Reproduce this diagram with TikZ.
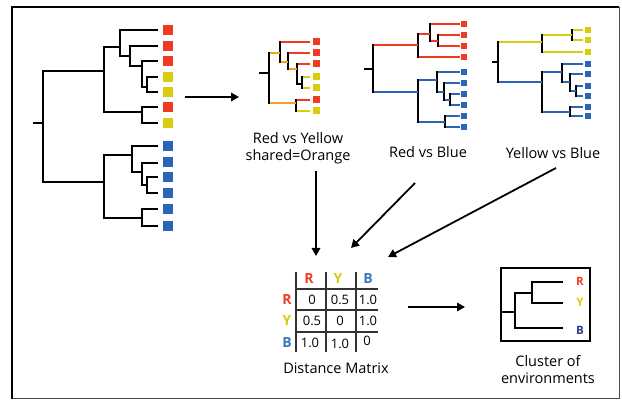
\documentclass[tikz,border=0pt]{standalone}
\usepackage{fontspec}
\setmainfont{Open Sans}
\usetikzlibrary{arrows.meta}

\definecolor{envred}{HTML}{EE3B22}
\definecolor{envyel}{HTML}{D8CC0C}
\definecolor{envblu}{HTML}{2B66B6}
\definecolor{envorg}{HTML}{F4A021}
\definecolor{envnavy}{HTML}{2A3C96}
\definecolor{mblue}{HTML}{3A78BE}

% one clade: parent x, then (y, child x, colour) for both children
\newcommand\tclade[7]{%
  \draw[hline,#4] (#1,#2) -- (#3,#2);
  \draw[hline,#7] (#1,#5) -- (#6,#5);
  \draw[vline] (#1,#2) -- (#1,#5);}
% leaf marker: x centre, y centre, size, colour
\newcommand\leafsq[4]{\fill[#4] (#1-#3/2,#2-#3/2) rectangle (#1+#3/2,#2+#3/2);}

\begin{document}
\begin{tikzpicture}[x=1pt,y=-1pt,
  bigtree/.style={line width=2.8pt,black,line join=miter},
  hline/.style={line width=2pt},
  vline/.style={line width=2pt,black,line cap=rect},
  arr/.style={line width=1.8pt,-{Triangle[length=8pt,width=8.5pt]}},
  lbl/.style={font=\fontsize{14.5}{17}\selectfont,align=center,inner sep=0pt},
  cell/.style={font=\fontsize{13}{13}\selectfont,inner sep=0pt},
  head/.style={font=\fontsize{14}{14}\selectfont\bfseries,inner sep=0pt},
  mline/.style={line width=1.1pt,black!80},
  ryb/.style={font=\fontsize{11.5}{12}\selectfont\bfseries,inner sep=0pt}]
\useasboundingbox (0,0) rectangle (622,401);

% outer frame
\draw[line width=1pt,black!70] (619,7) -- (619,398) -- (12,398);
\draw[line width=2.6pt,black] (12,399) -- (12,7) -- (619,7);

% ---------- full tree ----------
\draw[bigtree] (158,77) -- (147,77) -- (147,92) -- (158,92);
\draw[bigtree] (158,61) -- (142,61) -- (142,87) -- (147,87);
\draw[bigtree] (158,46) -- (130,46) -- (130,66) -- (142,66);
\draw[bigtree] (158,30) -- (120,30) -- (120,56) -- (130,56);
\draw[bigtree] (158,107) -- (142,107) -- (142,123) -- (158,123);
\draw[bigtree] (120,47) -- (104,47) -- (104,112) -- (142,112);
\draw[bigtree] (158,177) -- (147,177) -- (147,193) -- (158,193);
\draw[bigtree] (158,163) -- (142,163) -- (142,185) -- (147,185);
\draw[bigtree] (158,146) -- (132,146) -- (132,172) -- (142,172);
\draw[bigtree] (158,209) -- (142,209) -- (142,226) -- (158,226);
\draw[bigtree] (132,155) -- (104,155) -- (104,218) -- (142,218);
\draw[bigtree] (104,71) -- (43,71) -- (43,182) -- (104,182);
\draw[bigtree] (33,123) -- (43,123);
\foreach \yy/\cc in {30/envred,46/envred,61/envred,77/envyel,92/envyel,107/envred,123/envyel,
                     146/envblu,162/envblu,177/envblu,193/envblu,209/envblu,226/envblu}
  {\leafsq{168}{\yy}{9.5}{\cc}}

% ---------- red vs yellow ----------
\tclade{302}{77}{310}{envyel}{88}{310}{envyel}
\tclade{297}{64}{310}{envred}{84}{302}{black}
\tclade{288}{53}{310}{envred}{69}{297}{envorg}
\tclade{280}{42}{310}{envred}{62}{288}{envorg}
\tclade{296}{100}{310}{envred}{111}{310}{envyel}
\tclade{269}{53}{280}{envorg}{103}{296}{envorg}
\draw[hline,black] (259,73) -- (269,73);
\foreach \yy/\cc in {42/envred,53/envred,64/envred,77/envyel,88/envyel,100/envred,111/envyel}
  {\leafsq{316.5}{\yy}{7}{\cc}}
\node[lbl] (ry) at (298,148) {Red vs Yellow\\shared=Orange};

% ---------- red vs blue ----------
\tclade{438}{35}{460}{envred}{46}{460}{envred}
\tclade{430}{24}{460}{envred}{41}{438}{envred}
\tclade{418}{34}{430}{envred}{57}{460}{envred}
\tclade{450}{94}{460}{envblu}{105}{460}{envblu}
\tclade{444}{83}{460}{envblu}{100}{450}{envblu}
\tclade{437}{72}{460}{envblu}{92}{444}{envblu}
\tclade{445}{116}{460}{envblu}{127}{460}{envblu}
\tclade{418}{80}{437}{envblu}{122}{445}{envblu}
\tclade{373}{45}{418}{envred}{92}{418}{envblu}
\draw[hline,black] (364,69) -- (373,69);
\foreach \yy/\cc in {24/envred,35/envred,46/envred,57/envred,
                     72/envblu,83/envblu,94/envblu,105/envblu,116/envblu,127/envblu}
  {\leafsq{464}{\yy}{6.5}{\cc}}
\node[lbl] (rb) at (428,152) {Red vs Blue};

% ---------- yellow vs blue ----------
\tclade{572}{30}{583}{envyel}{40}{583}{envyel}
\tclade{542}{35}{572}{envyel}{52}{583}{envyel}
\tclade{576}{86}{583}{envblu}{96}{583}{envblu}
\tclade{570}{74}{583}{envblu}{91}{576}{envblu}
\tclade{562}{64}{583}{envblu}{82}{570}{envblu}
\tclade{570}{107}{583}{envblu}{116}{583}{envblu}
\tclade{542}{72}{562}{envblu}{112}{570}{envblu}
\tclade{498}{42}{542}{envyel}{82}{542}{envblu}
\draw[hline,black] (492,62) -- (498,62);
\foreach \yy/\cc in {30/envyel,40/envyel,52/envyel,
                     64/envblu,74/envblu,86/envblu,96/envblu,107/envblu,116/envblu}
  {\leafsq{588}{\yy}{6.5}{\cc}}
\node[lbl] (yb) at (553,153) {Yellow vs Blue};

% ---------- distance matrix ----------
\draw[mline] (296,272) -- (296,352);
\draw[mline] (326,272) -- (326,352);
\draw[mline] (356,272) -- (356,352);
\draw[mline] (295,289) -- (378,289);
\draw[mline] (295,310) -- (378,310);
\draw[mline] (295,332) -- (378,332);
\node[head,envred] (cR) at (309,279) {R};
\node[head,envyel] (cY) at (338,279) {Y};
\node[head,mblue]  (cB) at (368,279) {B};
\node[head,envred] (rR) at (287,300) {R};
\node[head,envyel] (rY) at (287,321) {Y};
\node[head,mblue]  (rB) at (287,343) {B};
\node[cell] (m11) at (312,300) {0};
\node[cell] (m12) at (340,300) {0.5};
\node[cell] (m13) at (368,300) {1.0};
\node[cell] (m21) at (312,321) {0.5};
\node[cell] (m22) at (340,321) {0};
\node[cell] (m23) at (368,321) {1.0};
\node[cell] (m31) at (310,343) {1.0};
\node[cell] (m32) at (340,344) {1.0};
\node[cell] (m33) at (367,341) {0};
\node[lbl] (dm) at (336,368) {Distance Matrix};

% ---------- cluster of environments ----------
\node[draw,line width=2pt,minimum width=89pt,minimum height=73pt,inner sep=0pt] (cl) at (545.5,304.5) {};
\draw[line width=2.8pt,line join=miter] (563,282) -- (532,282) -- (532,303) -- (563,303);
\draw[line width=2.8pt,line join=miter] (532,293) -- (515,293) -- (515,328) -- (563,328);
\draw[line width=2.8pt] (cl.west |- 0,312) -- (515,312);
\node[ryb,envred]  (kR) at (580,281) {R};
\node[ryb,envyel]  (kY) at (580,302) {Y};
\node[ryb,envnavy] (kB) at (580,330) {B};
\node[lbl] (ce) at (548,370) {Cluster of\\environments};

% ---------- arrows ----------
\coordinate (a1s) at (185,97);  \coordinate (a1e) at (239,97);
\coordinate (a2s) at (316,171); \coordinate (a2e) at (316,256);
\coordinate (a3s) at (415,183); \coordinate (a3e) at (351,248);
\coordinate (a4s) at (556,168); \coordinate (a4e) at (388,257);
\coordinate (a5s) at (408,307); \coordinate (a5e) at (465,307);
\draw[arr] (a1s) -- (a1e);
\draw[arr] (a2s) -- (a2e);
\draw[arr] (a3s) -- (a3e);
\draw[arr] (a4s) -- (a4e);
\draw[arr] (a5s) -- (a5e);
\end{tikzpicture}
\end{document}
